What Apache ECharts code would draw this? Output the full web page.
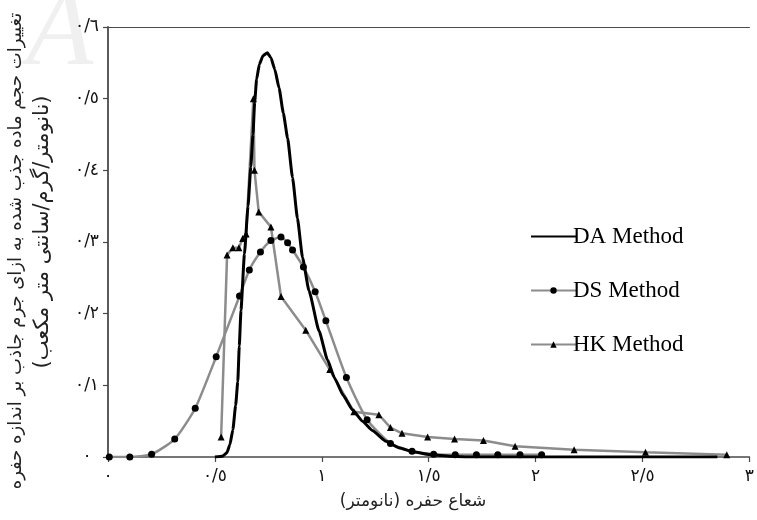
<!DOCTYPE html>
<html>
<head>
<meta charset="utf-8">
<script src="https://cdn.jsdelivr.net/npm/echarts@6/dist/echarts.min.js"></script>
<style>
  html, body { margin: 0; padding: 0; background: #fff; }
  #chart { width: 757px; height: 520px; }
</style>
</head>
<body>
<div id="chart"></div>
<script>
// Pore-size distribution: volume change per adsorbent mass vs pore radius (nm)
const xTickLabels = ['٠', '٠/٥', '١', '١/٥', '٢', '٢/٥', '٣'];
const yTickLabels = ['٠', '٠/١', '٠/٢', '٠/٣', '٠/٤', '٠/٥', '٠/٦'];

const seriesNames = ['DA Method', 'DS Method', 'HK Method'];

// [pore radius, value]
const daValues = [
  [0.50, 0], [0.535, 0.001], [0.556, 0.006], [0.570, 0.017], [0.584, 0.038],
  [0.597, 0.072], [0.607, 0.105], [0.614, 0.155], [0.622, 0.205], [0.638, 0.283],
  [0.655, 0.350], [0.668, 0.405], [0.678, 0.450], [0.686, 0.495], [0.695, 0.527],
  [0.708, 0.548], [0.725, 0.560], [0.745, 0.564], [0.762, 0.557], [0.780, 0.541],
  [0.800, 0.515], [0.820, 0.480], [0.840, 0.445], [0.863, 0.390], [0.886, 0.333],
  [0.910, 0.278], [0.940, 0.232], [0.987, 0.176], [1.026, 0.136], [1.060, 0.110],
  [1.100, 0.086], [1.143, 0.066], [1.190, 0.050], [1.236, 0.037], [1.300, 0.022],
  [1.360, 0.013], [1.430, 0.007], [1.515, 0.003], [1.600, 0.001], [1.700, 0],
  [2.850, 0]
];

const dsValues = [
  [0.006, 0], [0.102, 0], [0.204, 0.004], [0.312, 0.025], [0.408, 0.068],
  [0.506, 0.140], [0.615, 0.2245], [0.661, 0.261], [0.713, 0.286], [0.762, 0.302],
  [0.809, 0.307], [0.840, 0.299], [0.863, 0.289], [0.914, 0.265], [0.969, 0.2305],
  [1.019, 0.190], [1.115, 0.111], [1.212, 0.052], [1.321, 0.019], [1.422, 0.008],
  [1.523, 0.004], [1.624, 0.003], [1.723, 0.003], [1.823, 0.003], [1.927, 0.003],
  [2.028, 0.003]
];

const hkValues = [
  [0.529, 0.028], [0.557, 0.282], [0.584, 0.292], [0.612, 0.292], [0.630, 0.305],
  [0.646, 0.311], [0.680, 0.500], [0.685, 0.400], [0.705, 0.342], [0.762, 0.321],
  [0.809, 0.224], [0.925, 0.177], [1.037, 0.122], [1.150, 0.063], [1.267, 0.059],
  [1.321, 0.041], [1.375, 0.033], [1.495, 0.028], [1.621, 0.025], [1.756, 0.023],
  [1.904, 0.015], [2.180, 0.010], [2.514, 0.0066], [2.894, 0.003]
];

const yTitleLine1 = 'تغییرات حجم ماده جذب شده به ازای جرم جاذب بر اندازه حفره';
const yTitleLine2 = '(نانومتر/گرم/سانتی متر مکعب)';
const xTitle = 'شعاع حفره (نانومتر)';

const RLM = '\u200F';
const arabicFont = 'DejaVu Sans';
const axisColor = '#4a4a4a';
const grayLine = '#8c8c8c';

const chart = echarts.init(document.getElementById('chart'), null, { renderer: 'canvas' });

chart.setOption({
  animation: false,
  backgroundColor: '#fff',
  grid: { left: 108, right: 5, top: 27, bottom: 63, containLabel: false },
  xAxis: [{
    type: 'value',
    min: 0, max: 3, interval: 0.5,
    axisLine: { show: true, onZero: false, lineStyle: { color: axisColor, width: 1.5 } },
    axisTick: { show: true, length: 5, lineStyle: { color: axisColor, width: 1.2 } },
    splitLine: { show: false },
    axisLabel: {
      margin: 11,
      fontFamily: arabicFont, fontSize: 17, color: '#111',
      formatter: v => xTickLabels[Math.round(v / 0.5)]
    }
  }, {
    type: 'value', position: 'top',
    min: 0, max: 3,
    axisLine: { show: true, onZero: false, lineStyle: { color: axisColor, width: 1.2 } },
    axisTick: { show: false }, axisLabel: { show: false }, splitLine: { show: false }
  }],
  yAxis: {
    type: 'value',
    min: 0, max: 0.6, interval: 0.1,
    axisLine: { show: true, onZero: false, lineStyle: { color: axisColor, width: 1.8 } },
    axisTick: { show: true, length: 5, lineStyle: { color: axisColor, width: 1.2 } },
    splitLine: { show: false },
    axisLabel: {
      margin: 21, align: 'center',
      fontFamily: arabicFont, fontSize: 17, color: '#111',
      formatter: v => yTickLabels[Math.round(v / 0.1)]
    }
  },
  legend: {
    data: [
      { name: 'DA Method', itemStyle: { opacity: 0 } },
      { name: 'DS Method' },
      { name: 'HK Method' }
    ],
    orient: 'vertical',
    left: 525, top: 220,
    itemWidth: 45, itemHeight: 8, itemGap: 31,
    textStyle: { fontFamily: 'Liberation Serif', fontSize: 23, color: '#000', padding: [0, 0, 0, -8] }
  },
  series: [
    {
      name: 'HK Method', type: 'line', data: hkValues,
      symbol: 'triangle', symbolSize: 7, showSymbol: true,
      lineStyle: { color: grayLine, width: 2.5 },
      itemStyle: { color: '#000' },
      z: 2
    },
    {
      name: 'DS Method', type: 'line', data: dsValues,
      symbol: 'circle', symbolSize: 7, showSymbol: true,
      smooth: 0.2,
      lineStyle: { color: grayLine, width: 2.5 },
      itemStyle: { color: '#000' },
      z: 3
    },
    {
      name: 'DA Method', type: 'line', data: daValues,
      symbol: 'none', smooth: 0.15, smoothMonotone: 'x',
      lineStyle: { color: '#000', width: 3 },
      itemStyle: { color: '#000' },
      z: 4
    }
  ],
  graphic: [
    {
      type: 'text', x: 26, y: -20, z: -10, silent: true,
      style: { text: 'A', font: 'italic 110px "Liberation Serif"', fill: '#f0f0f0' }
    },
    {
      type: 'text', x: 16, y: 251, rotation: Math.PI / 2,
      style: {
        text: RLM + yTitleLine1 + RLM, font: '18px "DejaVu Sans"', fill: '#222',
        align: 'center', verticalAlign: 'middle'
      }
    },
    {
      type: 'text', x: 43, y: 232, rotation: Math.PI / 2,
      style: {
        text: RLM + yTitleLine2 + RLM, font: '21px "DejaVu Sans"', fill: '#222',
        align: 'center', verticalAlign: 'middle'
      }
    },
    {
      type: 'text', x: 413, y: 502,
      style: {
        text: RLM + xTitle + RLM, font: '17px "DejaVu Sans"', fill: '#222',
        align: 'center', verticalAlign: 'middle'
      }
    }
  ]
});
</script>
</body>
</html>
